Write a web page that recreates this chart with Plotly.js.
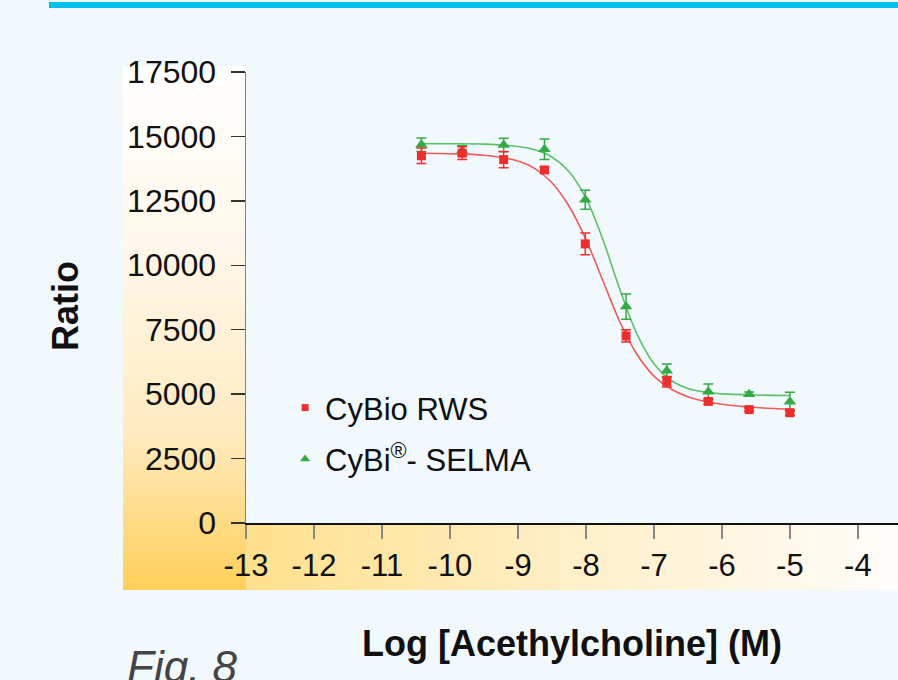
<!DOCTYPE html>
<html>
<head>
<meta charset="utf-8">
<script src="https://cdn.plot.ly/plotly-3.0.1.min.js"></script>
<style>
html,body{margin:0;padding:0;background:#f2f9fd;}
#wrap{position:relative;width:898px;height:680px;overflow:hidden;background:#f2f9fd;}
#bar{position:absolute;left:49px;top:2px;width:849px;height:6px;background:#00c0f0;}
#left{position:absolute;left:123px;top:66px;width:123px;height:524px;background:linear-gradient(to bottom,#ffffff 0%,#fff7ea 35%,#ffebc0 70%,#ffcf58 100%);}
#bottom{position:absolute;left:246px;top:524px;width:652px;height:66px;background:linear-gradient(to right,#ffe08c 0%,#ffefc8 50%,#fffdfb 100%);}
#chart{position:absolute;left:0;top:0;width:898px;height:680px;}
</style>
</head>
<body>
<div id="wrap">
  <div id="bar"></div>
  <div id="left"></div>
  <div id="bottom"></div>
  <div id="chart"></div>
</div>
<script>
// ---- data ----
const logConc = [-10.42, -9.82, -9.21, -8.61, -8.01, -7.41, -6.81, -6.20, -5.60, -5.00];

const rwsRatio = [14250, 14350, 14100, 13700, 10830, 7260, 5480, 4720, 4400, 4280];
const rwsErr   = [300, 250, 320, 100, 420, 240, 200, 100, 60, 100];

const selmaRatio = [14680, 14450, 14668, 14500, 12540, 8400, 5910, 5095, 5000, 4707];
const selmaErr   = [260, 200, 260, 400, 370, 490, 260, 300, 80, 370];

// fitted curves
const fitX = [-10.42, -10, -9.5, -9, -8.75, -8.5, -8.25, -8, -7.75, -7.5, -7.25, -7, -6.75, -6.5, -6.25, -6, -5.5, -5];
const rwsFit   = [14350, 14330, 14270, 14050, 13750, 13200, 12300, 11000, 9400, 7800, 6550, 5700, 5200, 4900, 4720, 4610, 4480, 4420];
const selmaFit = [14720, 14715, 14700, 14610, 14480, 14200, 13640, 12610, 10990, 9050, 7340, 6180, 5540, 5220, 5080, 5010, 4965, 4950];

const seriesNames = ['CyBio RWS', 'CyBi<sup>®</sup>- SELMA'];

const xTickVals = [-13, -12, -11, -10, -9, -8, -7, -6, -5, -4];
const xTickText = ['-13', '-12', '-11', '-10', '-9', '-8', '-7', '-6', '-5', '-4'];
const yTickVals = [0, 2500, 5000, 7500, 10000, 12500, 15000, 17500];
const yTickText = ['0', '2500', '5000', '7500', '10000', '12500', '15000', '17500'];

const xTitle = 'Log [Acethylcholine] (M)';
const yTitle = 'Ratio';
const figLabel = 'Fig. 8';

// ---- styles ----
const RED = '#ee2d2d', RED_LINE = '#ef5a5a';
const GREEN = '#33aa44', GREEN_LINE = '#5cc06a';
const FONT = 'Liberation Sans, Arial, Helvetica, sans-serif';

const traces = [
  {x: fitX, y: rwsFit, mode: 'lines', line: {color: RED_LINE, width: 1.6, shape: 'spline'}, showlegend: false, hoverinfo: 'skip'},
  {x: fitX, y: selmaFit, mode: 'lines', line: {color: GREEN_LINE, width: 1.6, shape: 'spline'}, showlegend: false, hoverinfo: 'skip'},
  {x: logConc, y: selmaRatio, mode: 'markers', marker: {symbol: 'triangle-up', size: 11, color: GREEN},
   error_y: {type: 'data', array: selmaErr, visible: true, color: GREEN, thickness: 1.5, width: 5}, showlegend: false},
  {x: logConc, y: rwsRatio, mode: 'markers', marker: {symbol: 'square', size: 9, color: RED},
   error_y: {type: 'data', array: rwsErr, visible: true, color: RED, thickness: 1.5, width: 5}, showlegend: false},
  // legend entries
  {x: [null], y: [null], mode: 'markers', name: seriesNames[0], legendgroup: 'a', marker: {symbol: 'square', size: 7, color: RED}},
  {x: [null], y: [null], mode: 'markers', name: seriesNames[1], legendgroup: 'b', marker: {symbol: 'triangle-up', size: 9, color: GREEN}}
];

const layout = {
  width: 898, height: 680,
  margin: {l: 246, r: 0, t: 72, b: 157, pad: 0},
  paper_bgcolor: 'rgba(0,0,0,0)',
  plot_bgcolor: 'rgba(0,0,0,0)',
  font: {family: FONT, color: '#111'},
  showlegend: true,
  xaxis: {
    range: [-13, -3.41], tickmode: 'array', tickvals: xTickVals, ticktext: xTickText,
    ticks: 'outside', ticklen: 14, tickwidth: 1.5, tickcolor: '#888',
    showline: true, linecolor: '#111', linewidth: 1.5,
    showgrid: false, zeroline: false, automargin: false,
    tickfont: {family: FONT, size: 31, color: '#111'},
    title: {text: '<b>' + xTitle + '</b>', font: {family: FONT, size: 36, color: '#111'}, standoff: 49}
  },
  yaxis: {
    range: [0, 17500], tickmode: 'array', tickvals: yTickVals, ticktext: yTickText,
    ticks: 'outside', ticklen: 14, tickwidth: 1.5, tickcolor: '#333',
    showline: true, linecolor: '#8a8070', linewidth: 1.5,
    showgrid: false, zeroline: false, automargin: false,
    ticklabelstandoff: 8,
    tickfont: {family: FONT, size: 32, color: '#111'}
  },
  legend: {
    x: 0.06, y: 0.315, xanchor: 'left', yanchor: 'top',
    bgcolor: 'rgba(0,0,0,0)', borderwidth: 0,
    font: {family: FONT, size: 31, color: '#111'},
    traceorder: 'grouped', tracegroupgap: 8
  },
  annotations: [
    {text: '<b>' + yTitle + '</b>', xref: 'paper', yref: 'paper', x: -0.277, y: 0.482,
     xanchor: 'center', yanchor: 'middle', textangle: -90, showarrow: false,
     font: {family: FONT, size: 36, color: '#111'}},
    {text: '<i>' + figLabel + '</i>', xref: 'paper', yref: 'paper', x: -0.1856, y: -0.26,
     xanchor: 'left', yanchor: 'top', showarrow: false,
     font: {family: FONT, size: 44, color: '#444'}}
  ]
};

Plotly.newPlot('chart', traces, layout, {displayModeBar: false, staticPlot: true});
</script>
</body>
</html>
